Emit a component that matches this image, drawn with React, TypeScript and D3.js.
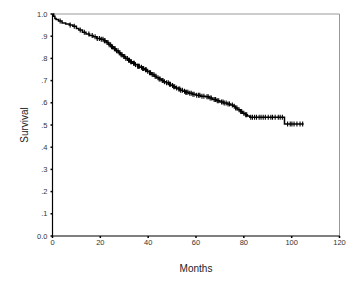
import React from "react";
import * as d3 from "d3";

// Kaplan–Meier step points: time (months) and survival after each drop
const stepTimes = [0, 0.5, 1, 1.5, 2.5, 4, 5.5, 7, 8.5, 10, 11, 12.5, 14, 15.5, 17, 18.5, 20, 21.5, 22.5, 23.5, 24.5, 25.5, 26.5, 27.5, 28.5, 29.5, 30.5, 31.5, 32.5, 33.5, 34.5, 35.5, 36.5, 37.5, 38.5, 39.5, 40.5, 41.5, 42.5, 43.5, 44.5, 45.5, 46.5, 47.5, 48.5, 49.5, 50.5, 51.5, 52.5, 53.5, 54.5, 55.5, 57, 58.5, 60, 62, 64, 65.5, 67, 68.5, 70, 71.5, 73, 74.5, 75.5, 76.5, 77.5, 78.5, 79.5, 80.5, 81.5, 82.5, 97];
const stepSurv = [1.0, 0.99, 0.98, 0.975, 0.968, 0.96, 0.955, 0.95, 0.945, 0.935, 0.928, 0.918, 0.91, 0.903, 0.897, 0.89, 0.886, 0.88, 0.872, 0.862, 0.852, 0.843, 0.835, 0.826, 0.817, 0.808, 0.8, 0.792, 0.785, 0.778, 0.772, 0.765, 0.76, 0.755, 0.749, 0.742, 0.735, 0.727, 0.72, 0.713, 0.707, 0.701, 0.695, 0.69, 0.684, 0.678, 0.672, 0.667, 0.662, 0.657, 0.652, 0.648, 0.643, 0.638, 0.634, 0.63, 0.627, 0.622, 0.615, 0.609, 0.604, 0.599, 0.595, 0.59, 0.584, 0.577, 0.569, 0.561, 0.553, 0.546, 0.54, 0.535, 0.505];
const endTime = 105;

// censored observations (months)
const censorTimes = [3.2, 7.4, 9.1, 11.6, 13.3, 15.2, 16.6, 17.8, 18.7, 19.6, 20.4, 21.1, 21.7, 22.0, 22.8, 23.2, 23.7, 24.3, 24.7, 25.1, 25.9, 26.2, 26.8, 27.4, 27.9, 28.2, 28.7, 29.1, 29.8, 30.2, 30.7, 31.3, 31.8, 32.2, 32.7, 33.0, 33.9, 34.2, 34.7, 35.6, 36.0, 36.3, 37.2, 37.7, 38.1, 38.9, 39.2, 39.8, 40.6, 41.0, 41.7, 42.4, 42.9, 43.3, 44.1, 44.6, 45.0, 45.9, 46.2, 46.8, 47.7, 48.4, 48.9, 49.3, 50.2, 50.7, 51.1, 51.9, 52.8, 53.2, 53.6, 54.3, 55.2, 55.7, 56.1, 56.6, 57.4, 58.0, 58.7, 59.2, 60.3, 61.1, 61.6, 62.5, 63.3, 64.6, 65.1, 65.9, 66.4, 67.6, 68.2, 68.9, 69.5, 70.7, 71.3, 71.8, 72.6, 73.4, 74.0, 75.2, 76.0, 76.6, 77.1, 78.0, 78.7, 79.1, 80.0, 80.8, 81.2, 82.9, 83.6, 84.5, 85.3, 86.4, 87.2, 88.1, 89.0, 90.2, 91.3, 92.0, 93.1, 94.4, 95.2, 96.1, 98.3, 99.4, 100.1, 101.0, 102.2, 103.5, 104.6];

const xTicks = [0, 20, 40, 60, 80, 100, 120];
const yTicks = [0, 0.1, 0.2, 0.3, 0.4, 0.5, 0.6, 0.7, 0.8, 0.9, 1.0];
const yTickLabels = ["0.0", ".1", ".2", ".3", ".4", ".5", ".6", ".7", ".8", ".9", "1.0"];

export default function App() {
  const W = 354, H = 283;
  const left = 52.5, right = 339.5, top = 14, bottom = 236;
  const x = d3.scaleLinear().domain([0, 120]).range([left, right]);
  const y = d3.scaleLinear().domain([0, 1]).range([bottom, top]);

  const pts: [number, number][] = stepTimes.map((t, i) => [t, stepSurv[i]]);
  pts.push([endTime, stepSurv[stepSurv.length - 1]]);
  const line = d3.line<[number, number]>().x(d => x(d[0])).y(d => y(d[1])).curve(d3.curveStepAfter);

  const bis = d3.bisector((t: number) => t).right;
  const survAt = (t: number) => stepSurv[Math.max(0, bis(stepTimes, t) - 1)];

  const font = "Liberation Sans, Arial, sans-serif";
  return (
    <svg width={W} height={H} style={{ position: "absolute", left: 0, top: 0, background: "#fff" }}>
      <rect x={0} y={0} width={W} height={H} fill="#fff" />
      {/* frame */}
      <line x1={left} x2={right} y1={top} y2={top} stroke="#999" strokeWidth={1} />
      <line x1={right} x2={right} y1={top} y2={bottom} stroke="#999" strokeWidth={1} />
      {/* axes */}
      <line x1={left} x2={left} y1={top} y2={bottom} stroke="#000" strokeWidth={1.2} />
      <line x1={left} x2={right} y1={bottom} y2={bottom} stroke="#000" strokeWidth={1.2} />
      {yTicks.map((v, i) => (
        <g key={"y" + i}>
          <line x1={left - 2} x2={left} y1={y(v)} y2={y(v)} stroke="#000" strokeWidth={1.5} />
          <text x={left - 5} y={y(v)} dy="0.35em" textAnchor="end" fontFamily={font} fontSize={7.5} fill="#333">{yTickLabels[i]}</text>
        </g>
      ))}
      {xTicks.map((v, i) => (
        <g key={"x" + i}>
          <line x1={x(v)} x2={x(v)} y1={bottom} y2={bottom + 2} stroke="#000" strokeWidth={1.5} />
          <text x={x(v)} y={bottom + 9} textAnchor="middle" fontFamily={font} fontSize={7.5} fill="#333">{v}</text>
        </g>
      ))}
      <text x={196} y={272} textAnchor="middle" fontFamily={font} fontSize={10} fill="#222">Months</text>
      <text transform={`translate(28,${(top + bottom) / 2}) rotate(-90)`} textAnchor="middle" fontFamily={font} fontSize={10} fill="#222">Survival</text>
      {/* survival curve */}
      <path d={line(pts) || ""} fill="none" stroke="#000" strokeWidth={1.5} />
      {censorTimes.map((t, i) => (
        <line key={"c" + i} x1={x(t)} x2={x(t)} y1={y(survAt(t)) - 2.5} y2={y(survAt(t)) + 2.5} stroke="#000" strokeWidth={1.1} />
      ))}
    </svg>
  );
}
